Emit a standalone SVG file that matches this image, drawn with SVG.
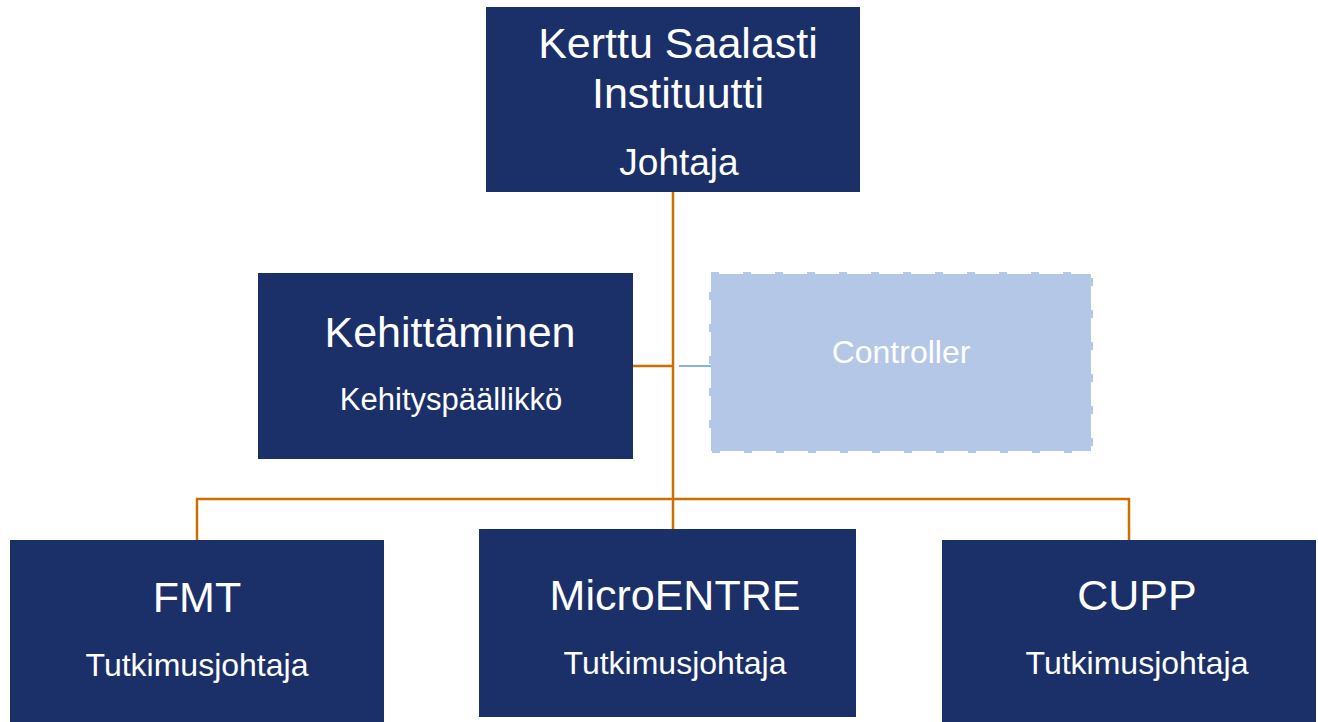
<svg xmlns="http://www.w3.org/2000/svg" width="1318" height="722" viewBox="0 0 1318 722">
<style>
.box{fill:#1B3068;}
.t{fill:#FFFFFF;font-family:"Liberation Sans",Arial,sans-serif;text-anchor:middle;}
.big{font-size:43px;}
.sub{font-size:32px;}
.conn{stroke:#CC6E00;stroke-width:2.5;fill:none;}
</style>
<rect width="1318" height="722" fill="#FFFFFF"/>
<g id="connectors">
<path class="conn" d="M673,192 V529"/>
<path class="conn" d="M197,541 V499 H1129 V541"/>
<path class="conn" d="M633,366 H673"/>
<path d="M679,366 H711" stroke="#5B9BD5" stroke-width="1.5" fill="none"/>
</g>
<g id="top">
<rect class="box" x="486" y="7" width="374" height="185"/>
<text class="t big" x="678" y="58">Kerttu Saalasti</text>
<text class="t big" x="678" y="108">Instituutti</text>
<text class="t" x="679" y="175" font-size="37">Johtaja</text>
</g>
<g id="kehittaminen">
<rect class="box" x="258" y="273" width="375" height="186"/>
<text class="t big" x="450" y="347">Kehittäminen</text>
<text class="t" x="451" y="410" font-size="31">Kehityspäällikkö</text>
</g>
<g id="controller">
<rect x="711" y="274" width="380" height="177" fill="#B4C7E7" stroke="#B4C7E7" stroke-width="4" stroke-dasharray="8 24"/>
<text class="t" x="901" y="363" font-size="32">Controller</text>
</g>
<g id="fmt">
<rect class="box" x="10" y="540" width="374" height="190"/>
<text class="t big" x="197" y="612">FMT</text>
<text class="t sub" x="197" y="676">Tutkimusjohtaja</text>
</g>
<g id="microentre">
<rect class="box" x="479" y="529" width="377" height="188"/>
<text class="t big" x="675" y="610">MicroENTRE</text>
<text class="t sub" x="675" y="674">Tutkimusjohtaja</text>
</g>
<g id="cupp">
<rect class="box" x="942" y="540" width="374" height="190"/>
<text class="t big" x="1137" y="610">CUPP</text>
<text class="t sub" x="1137" y="674">Tutkimusjohtaja</text>
</g>
</svg>
